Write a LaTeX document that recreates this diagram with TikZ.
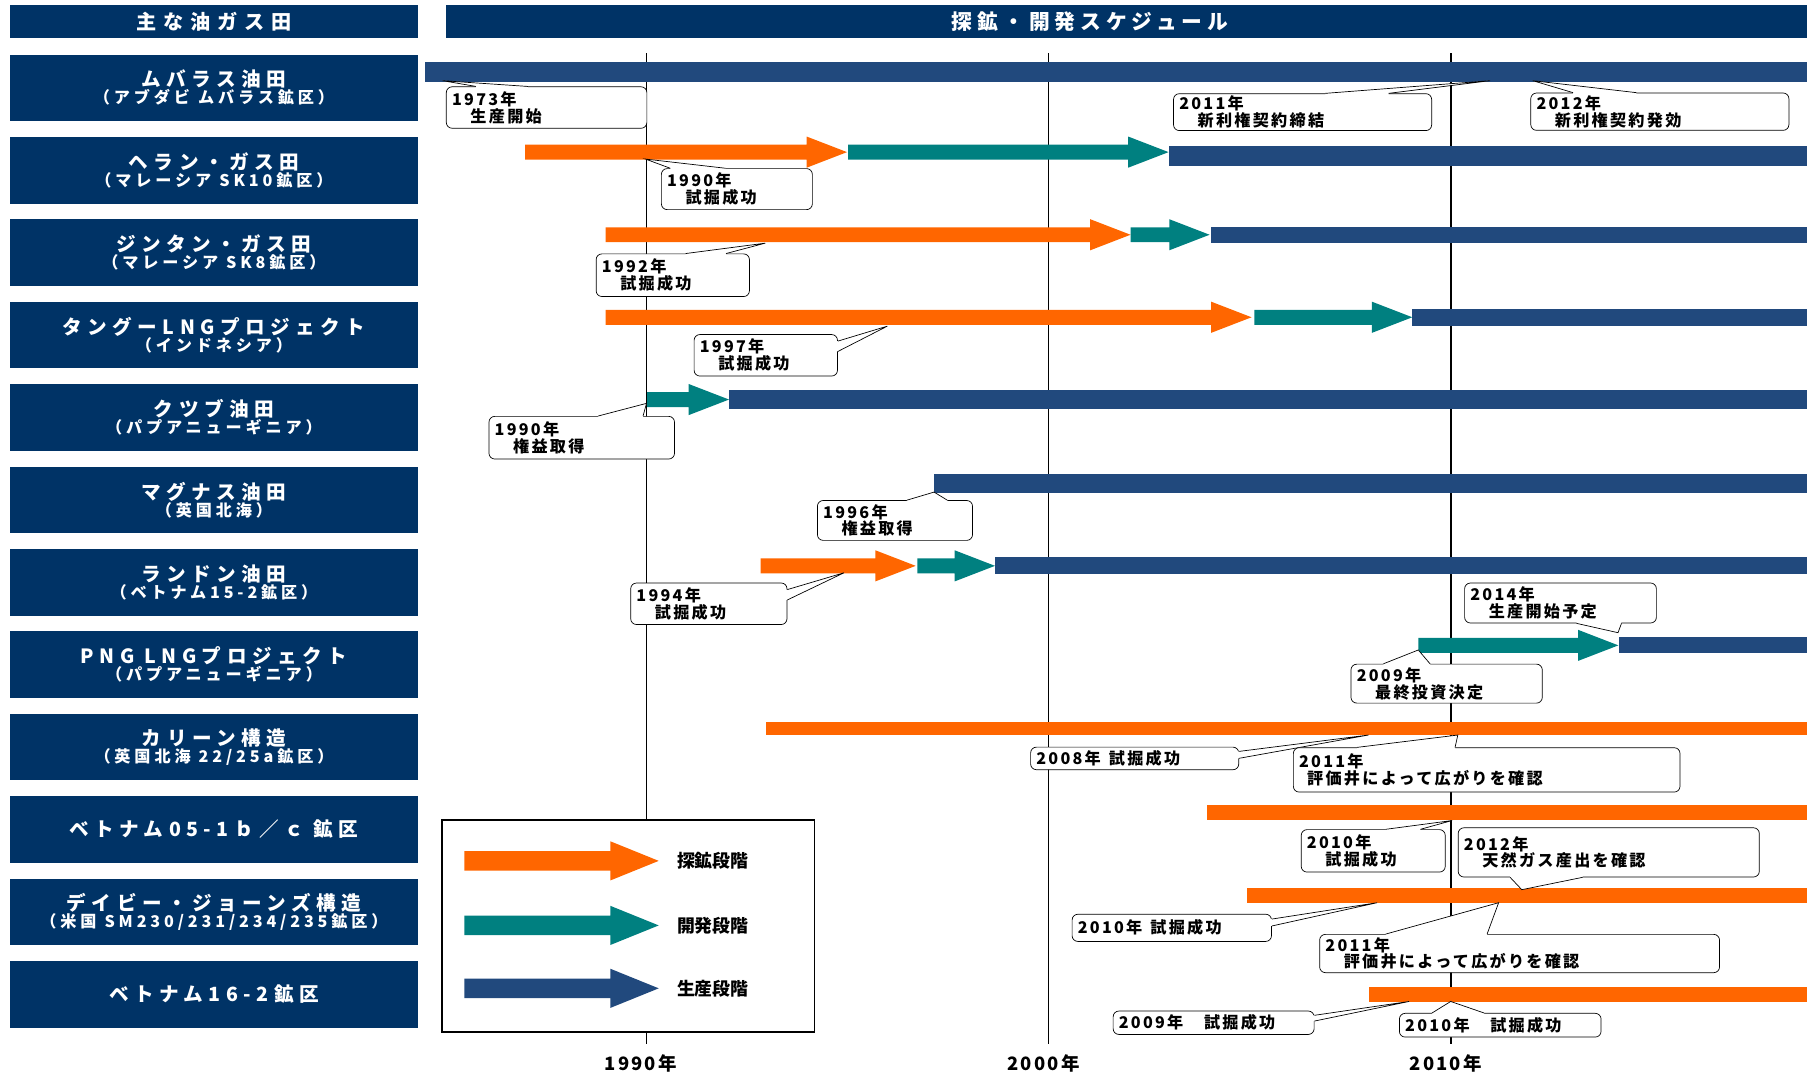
\documentclass[tikz,border=0pt]{standalone}
\usepackage{fontspec}
\usepackage{tikz}
\usetikzlibrary{shapes,arrows,positioning,fit,calc}

\newfontfamily\jpplain{Noto Sans CJK JP}
\newfontfamily\jphead[LetterSpace=34]{Noto Sans CJK JP}
\newfontfamily\jpwide[LetterSpace=28]{Noto Sans CJK JP}
\newfontfamily\jpmid[LetterSpace=24]{Noto Sans CJK JP}
\newfontfamily\jptitle[LetterSpace=24]{Noto Sans CJK JP}
\newfontfamily\jpnote[LetterSpace=14]{Noto Sans CJK JP}
\newfontfamily\jpyear[LetterSpace=12]{Noto Sans CJK JP}

\newcommand{\hdrfnt}{\jphead\bfseries\fontsize{17.5}{19}\selectfont}
\newcommand{\ttlfnt}{\jptitle\bfseries\fontsize{18}{20}\selectfont}
\newcommand{\fldfnt}{\jpwide\bfseries\fontsize{17}{17}\selectfont}
\newcommand{\fldsubfnt}{\jpmid\bfseries\fontsize{14}{15}\selectfont}
\newcommand{\notefnt}{\jpnote\bfseries\fontsize{14}{14.5}\selectfont}
\newcommand{\yrfnt}{\jpyear\bfseries\fontsize{16}{18}\selectfont}
\newcommand{\keyfnt}{\jpplain\bfseries\fontsize{15.5}{17}\selectfont}
\newcommand{\jsp}{\hspace{0.5em}}

\definecolor{hdrblue}{RGB}{0,51,102}
\definecolor{prodblue}{RGB}{33,73,125}
\definecolor{explorange}{RGB}{255,102,0}
\definecolor{devteal}{RGB}{0,128,128}

% fat stage arrow: colour, start x, tip x, centre y
\newcommand{\arrbody}{6.5}
\newcommand{\arrhead}{13.5}
\newcommand{\arrlen}{35}
\newcommand{\stagearrow}[4]{%
  \fill[#1] (#2,#4-\arrbody) -- (#3-\arrlen,#4-\arrbody) -- (#3-\arrlen,#4-\arrhead)
    -- (#3,#4) -- (#3-\arrlen,#4+\arrhead) -- (#3-\arrlen,#4+\arrbody)
    -- (#2,#4+\arrbody) -- cycle;}
% callout wedge: tip, anchor of note, offset 1, offset 2, inward shift
\newcommand{\notetip}[5]{%
  \fill[white] ($(#2)+#3$) -- (#1) -- ($(#2)+#4$) -- ($(#2)+#4+#5$) -- ($(#2)+#3+#5$) -- cycle;
  \draw[line width=0.6pt] ($(#2)+#3$) -- (#1) -- ($(#2)+#4$);}

\begin{document}
\begin{tikzpicture}[x=1pt,y=-1pt]
        % Define styles
        \tikzstyle{head} = [rectangle, fill=hdrblue, text=white, minimum height=28.4pt, inner sep=0pt]
        \tikzstyle{field} = [rectangle, fill=hdrblue, text=white, minimum width=354.3pt,
            minimum height=57.8pt, inner sep=0pt, align=center]
        \tikzstyle{note} = [rectangle, draw, line width=0.6pt, fill=white, rounded corners=5pt,
            anchor=north west, align=left, inner xsep=5pt, inner ysep=1pt, font=\notefnt]
        \tikzstyle{gridline} = [line width=1.3pt]
        \tikzstyle{year} = [font=\yrfnt]
        \tikzstyle{key} = [anchor=west, font=\keyfnt]

        \useasboundingbox (0,0) rectangle (1568,932);

        % Headers
        \node [head, anchor=north west, minimum width=354.3pt, font=\hdrfnt] (hl) at (8.3,4.3) {主な油ガス田};
        \node [head, right=23.4pt of hl, minimum width=1182pt] (hr) {};
        \node [text=white, font=\ttlfnt] (title) at (946,18.5) {探鉱・開発スケジュール};

        % Fields
        \node [field, below=14pt of hl] (mubarraz) {{\fldfnt ムバラス油田}\\{\fldsubfnt （アブダビ\jsp ムバラス鉱区）}};
        \node [field, below=13.3pt of mubarraz] (helang) {{\fldfnt ヘラン・ガス田}\\{\fldsubfnt （マレーシア\jsp SK10鉱区）}};
        \node [field, below=13.3pt of helang] (jintan) {{\fldfnt ジンタン・ガス田}\\{\fldsubfnt （マレーシア\jsp SK8鉱区）}};
        \node [field, below=13.3pt of jintan] (tangguh) {{\fldfnt タングーLNGプロジェクト}\\{\fldsubfnt （インドネシア）}};
        \node [field, below=13.3pt of tangguh] (kutubu) {{\fldfnt クツブ油田}\\{\fldsubfnt （パプアニューギニア）}};
        \node [field, below=13.3pt of kutubu] (magnus) {{\fldfnt マグナス油田}\\{\fldsubfnt （英国北海）}};
        \node [field, below=13.3pt of magnus] (rangdong) {{\fldfnt ランドン油田}\\{\fldsubfnt （ベトナム15-2鉱区）}};
        \node [field, below=13.3pt of rangdong] (pnglng) {{\fldfnt PNG\jsp LNGプロジェクト}\\{\fldsubfnt （パプアニューギニア）}};
        \node [field, below=13.3pt of pnglng] (culzean) {{\fldfnt カリーン構造}\\{\fldsubfnt （英国北海\jsp 22/25a鉱区）}};
        \node [field, below=13.3pt of culzean, font=\fldfnt] (vn051) {ベトナム05-1ｂ／ｃ\jsp 鉱区};
        \node [field, below=13.3pt of vn051] (davy) {{\fldfnt デイビー・ジョーンズ構造}\\{\fldsubfnt （米国\jsp SM230/231/234/235鉱区）}};
        \node [field, below=13.3pt of davy, font=\fldfnt] (vn162) {ベトナム16-2鉱区};

        % Year lines
        \draw [gridline] (561,46) -- (561,906);
        \draw [gridline] (910,46) -- (910,906);
        \draw [gridline] (1259,46) -- (1259,906);
        \node [year] (y1990) at (556,923) {1990年};
        \node [year] (y2000) at (905.5,923) {2000年};
        \node [year] (y2010) at (1254.5,923) {2010年};

        % Stages
        \fill [prodblue] (369,53.5) rectangle (1568,70.9);
        \stagearrow{explorange}{455.6}{735}{132}
        \stagearrow{devteal}{736}{1014}{132}
        \fill [prodblue] (1014,126.7) rectangle (1568,143.8);
        \stagearrow{explorange}{525.5}{981}{203.7}
        \stagearrow{devteal}{981}{1049.6}{203.7}
        \fill [prodblue] (1051,197) rectangle (1568,210.5);
        \stagearrow{explorange}{525.6}{1086}{275.3}
        \stagearrow{devteal}{1088.5}{1225.5}{275.3}
        \fill [prodblue] (1225.5,268.5) rectangle (1568,282.5);
        \stagearrow{devteal}{561.5}{632.6}{346.7}
        \fill [prodblue] (632.6,338.5) rectangle (1568,355);
        \fill [prodblue] (810.5,411.5) rectangle (1568,427.5);
        \stagearrow{explorange}{660}{794.6}{491}
        \stagearrow{devteal}{796}{863.4}{491}
        \fill [prodblue] (863.4,483) rectangle (1568,498);
        \stagearrow{devteal}{1230.7}{1404.3}{560}
        \fill [prodblue] (1405,553) rectangle (1568,567);
        \fill [explorange] (665,626.8) rectangle (1568,637.8);
        \fill [explorange] (1047,698.5) rectangle (1568,711.6);
        \fill [explorange] (1082,770.9) rectangle (1568,783.9);
        \fill [explorange] (1187.5,856.8) rectangle (1568,869.8);

        % Legend
        \node [draw, line width=1.6pt, fill=white, anchor=north west, minimum width=323pt,
            minimum height=183.6pt, inner sep=0pt] (legend) at (383,711) {};
        \renewcommand{\arrbody}{8.4}
        \renewcommand{\arrhead}{17}
        \renewcommand{\arrlen}{42}
        \stagearrow{explorange}{403}{571.6}{747}
        \stagearrow{devteal}{403}{571.6}{803}
        \stagearrow{prodblue}{403}{571.6}{857.6}
        \node [key] (kexp) at (584,747) {探鉱段階};
        \node [key] (kdev) at (584,803) {開発段階};
        \node [key] (kprod) at (584,857.6) {生産段階};

        % Callouts
        \node [note, text width=164pt, minimum height=36pt] (mub73) at (387,75) {1973年\\　生産開始};
        \coordinate (mub73t) at (384,70);
        \notetip{mub73t}{mub73.north west}{(26,0)}{(71,0)}{(0,1.5)}

        \node [note, text width=214pt, minimum height=32pt] (mub11) at (1018,81) {2011年\\　新利権契約締結};
        \coordinate (mub11t) at (1293,70);
        \notetip{mub11t}{mub11.north west}{(132,0)}{(187,0)}{(0,1.5)}

        \node [note, text width=214pt, minimum height=32.4pt] (mub12) at (1328,80.4) {2012年\\　新利権契約発効};
        \coordinate (mub12t) at (1330,70);
        \notetip{mub12t}{mub12.north west}{(37,0)}{(92,0)}{(0,1.5)}

        \node [note, text width=121pt, minimum height=35.6pt] (hel90) at (573.6,146) {1990年\\　試掘成功};
        \coordinate (hel90t) at (560,138);
        \notetip{hel90t}{hel90.north west}{(8,0)}{(56,0)}{(0,1.5)}

        \node [note, text width=123pt, minimum height=37pt] (jin92) at (517,220) {1992年\\　試掘成功};
        \coordinate (jin92t) at (664,211);
        \notetip{jin92t}{jin92.north west}{(78,0)}{(113,0)}{(0,1.5)}

        \node [note, text width=114.4pt, minimum height=36pt] (tan97) at (602,290) {1997年\\　試掘成功};
        \coordinate (tan97t) at (770,283);
        \notetip{tan97t}{tan97.north east}{(0,6)}{(0,15)}{(-1.5,0)}

        \node [note, text width=151pt, minimum height=37pt] (kut90) at (424,361) {1990年\\　権益取得};
        \coordinate (kut90t) at (561,350);
        \notetip{kut90t}{kut90.north west}{(95,0)}{(134,0)}{(0,1.5)}

        \node [note, text width=124.6pt, minimum height=34.6pt] (mag96) at (709,434) {1996年\\　権益取得};
        \coordinate (mag96t) at (810.5,427);
        \notetip{mag96t}{mag96.north west}{(78,0)}{(113,0)}{(0,1.5)}

        \node [note, text width=125.6pt, minimum height=36pt] (ran94) at (547,505.6) {1994年\\　試掘成功};
        \coordinate (ran94t) at (732.4,497);
        \notetip{ran94t}{ran94.north east}{(0,6)}{(0,15)}{(-1.5,0)}

        \node [note, text width=156.4pt, minimum height=34.7pt] (png14) at (1270.6,505.6) {2014年\\　生産開始予定};
        \coordinate (png14t) at (1404,549);
        \notetip{png14t}{png14.south west}{(97.4,0)}{(136.4,0)}{(0,-1.5)}

        \node [note, text width=156pt, minimum height=33.8pt] (png09) at (1172,576) {2009年\\　最終投資決定};
        \coordinate (png09t) at (1230.7,564);
        \notetip{png09t}{png09.north west}{(28.4,0)}{(68.9,0)}{(0,1.5)}

        \node [note, text width=170.6pt, minimum height=19.6pt] (cul08) at (894,648) {2008年\jsp 試掘成功};
        \coordinate (cul08t) at (1187.5,637.8);
        \notetip{cul08t}{cul08.north east}{(0,4)}{(0,10)}{(-1.5,0)}

        \node [note, text width=325.5pt, minimum height=38.5pt] (cul11) at (1122,648.5) {2011年\\\hspace*{7pt}評価井によって広がりを確認};
        \coordinate (cul11t) at (1265,637.8);
        \notetip{cul11t}{cul11.north west}{(55.7,0)}{(140.6,0)}{(0,1.5)}

        \node [note, text width=115pt, minimum height=36.8pt] (vn10) at (1128.8,719.6) {2010年\\　試掘成功};
        \coordinate (vn10t) at (1260,712);
        \notetip{vn10t}{vn10.north west}{(73.7,0)}{(103.8,0)}{(0,1.5)}

        \node [note, text width=251.3pt, minimum height=42.7pt] (vn12) at (1265,718) {2012年\\　天然ガス産出を確認};
        \coordinate (vn12t) at (1320.5,772);
        \notetip{vn12t}{vn12.south west}{(45.4,0)}{(108.2,0)}{(0,-1.5)}

        \node [note, text width=163pt, minimum height=23.6pt] (dj10) at (930,793) {2010年\jsp 試掘成功};
        \coordinate (dj10t) at (1195,783.3);
        \notetip{dj10t}{dj10.north east}{(0,4.5)}{(0,10.5)}{(-1.5,0)}

        \node [note, text width=337pt, minimum height=33.2pt] (dj11) at (1144.8,810.5) {2011年\\　評価井によって広がりを確認};
        \coordinate (dj11t) at (1300.4,783.3);
        \notetip{dj11t}{dj11.north west}{(57.7,0)}{(145.6,0)}{(0,1.5)}

        \node [note, text width=164.4pt, minimum height=20.3pt] (v16a) at (965.6,877) {2009年　試掘成功};
        \coordinate (v16at) at (1222.7,869);
        \notetip{v16at}{v16a.north east}{(0,4)}{(0,9)}{(-1.5,0)}

        \node [note, text width=165pt, minimum height=20.6pt] (v16b) at (1214,879) {2010年　試掘成功};
        \coordinate (v16bt) at (1258.8,869);
        \notetip{v16bt}{v16b.north west}{(28.6,0)}{(73.8,0)}{(0,1.5)}
\end{tikzpicture}
\end{document}
